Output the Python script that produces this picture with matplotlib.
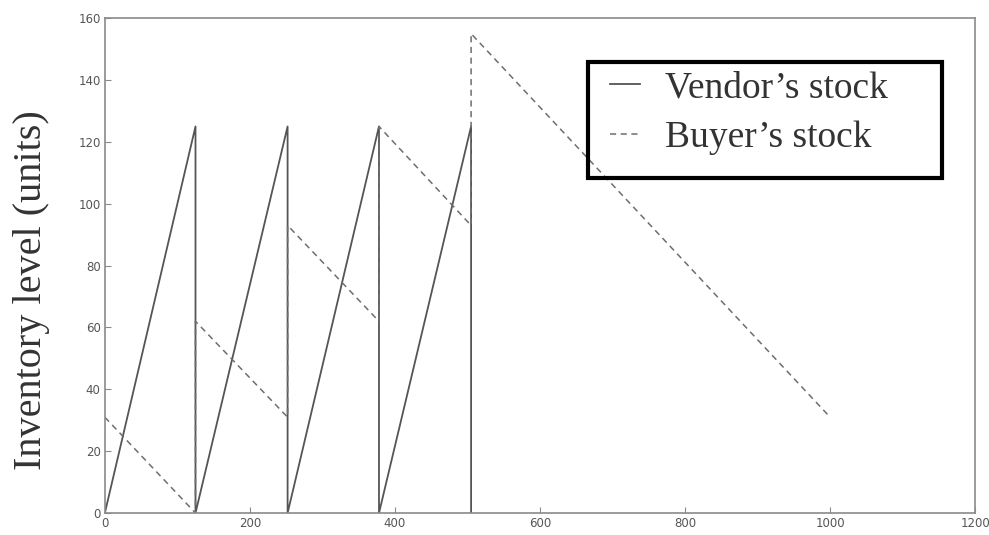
import matplotlib.pyplot as plt
from matplotlib.patches import Rectangle

# breakpoints (time, inventory units)
vendor_t = [0, 125, 125, 252, 252, 378, 378, 505, 505]
vendor_level = [0, 125, 0, 125, 0, 125, 0, 125, 0]

buyer_t = [0, 125, 125, 252, 252, 378, 378, 505, 505, 1000]
buyer_level = [31, 0, 62, 31, 93, 62, 125, 93, 155, 31]

x_ticks = [0, 200, 400, 600, 800, 1000, 1200]
y_ticks = [0, 20, 40, 60, 80, 100, 120, 140, 160]

fig = plt.figure(figsize=(9.89, 5.35), dpi=100)
ax = fig.add_axes([0.106, 0.041, 0.880, 0.925])

ax.plot(vendor_t, vendor_level, color="#555555", linewidth=1.3, label="Vendor\u2019s stock")
ax.plot(buyer_t, buyer_level, color="#6e6e6e", linewidth=1.1,
        linestyle=(0, (4, 3)), label="Buyer\u2019s stock")

ax.set_xlim(0, 1200)
ax.set_ylim(0, 160)
ax.set_xticks(x_ticks)
ax.set_yticks(y_ticks)

for s in ax.spines.values():
    s.set_color("#8a8a8a")
    s.set_linewidth(1.2)
ax.tick_params(direction="in", length=4, color="#8a8a8a", labelcolor="#555555",
               labelsize=8.5, pad=3)

ax.set_ylabel("Inventory level (units)", family="Liberation Serif", fontsize=29,
              color="#333333")
ax.yaxis.set_label_coords(-0.063, 0.45)

# legend without its own frame, box drawn separately (padding is uneven in the original)
leg = ax.legend(loc="upper left", bbox_to_anchor=(0.5805, 0.894),
                prop={"family": "Liberation Serif", "size": 27},
                frameon=False, handlelength=0.8, handletextpad=0.67,
                borderpad=0, labelspacing=0.4, borderaxespad=0)
for t in leg.get_texts():
    t.set_color("#333333")
ax.add_patch(Rectangle((0.555, 0.677), 0.407, 0.234, transform=ax.transAxes,
                       fill=False, edgecolor="black", linewidth=3, zorder=5))

plt.savefig("out.png", dpi=100)
plt.close()
